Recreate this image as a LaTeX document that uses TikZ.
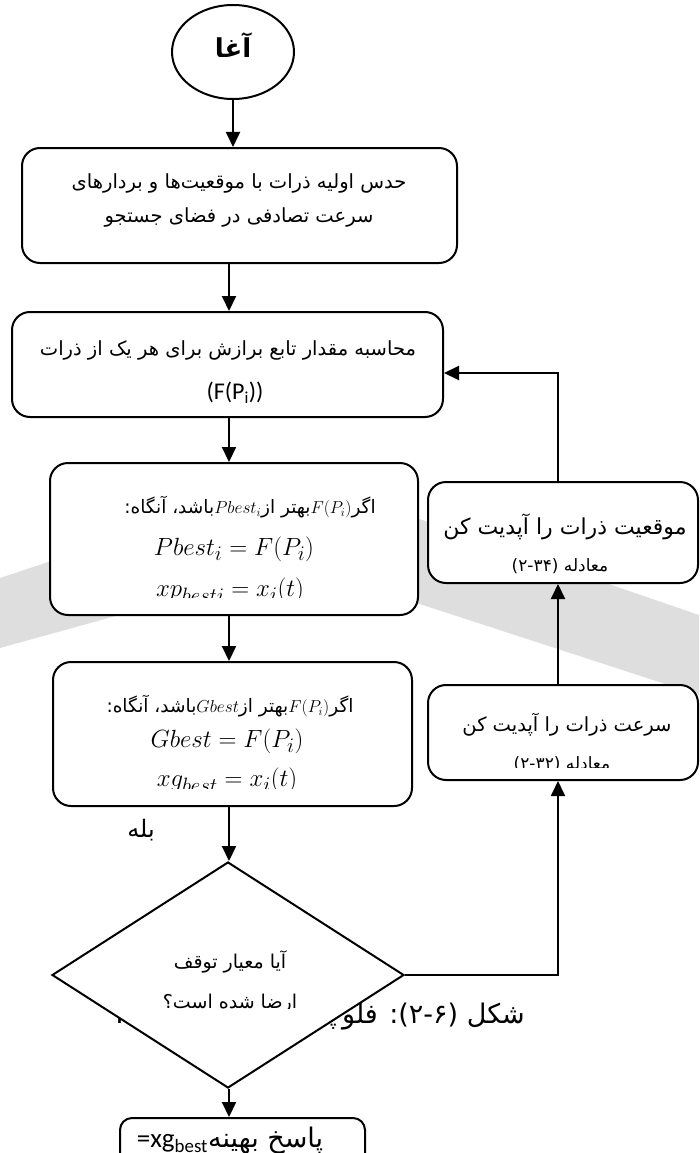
\documentclass[tikz,border=0pt]{standalone}
\usepackage{fontspec}
\usetikzlibrary{shapes.geometric,arrows.meta}
\TeXXeTstate=1
\newfontfamily\fa[Script=Arabic]{DejaVu Sans}
\newfontfamily\lat{Carlito}
\newcommand\rtl[1]{{\fa\beginR #1\endR}}
\newcommand\ltr[1]{\beginL #1\endL}
\tikzset{
  box/.style={draw, line width=2pt, rounded corners=18pt, fill=white, inner sep=0pt},
  arr/.style={line width=2pt, -{Triangle[length=15pt,width=14pt]}},
  txt/.style={inner sep=0pt},
}
\begin{document}
\begin{tikzpicture}[x=1pt,y=-1pt]
\useasboundingbox (0,0) rectangle (699,1153);

% faint watermark band
\fill[black!13] (0,578) -- (300,478) -- (699,615) -- (699,695) -- (300,565) -- (0,648) -- cycle;

% caption lying under the decision diamond
\node[txt, anchor=east, font=\fa\fontsize{27}{30}\selectfont] (cap) at (525,1015)
  {\beginR شکل (۲-۶): فلوچارت الگوریتم \beginL PSO\endL\endR};

% start
\node[draw, ellipse, line width=2pt, fill=white, minimum width=122pt, minimum height=94pt] (start) at (233,52) {};
\node[txt, font=\fa\bfseries\fontsize{26}{30}\selectfont] (starttxt) at (233,45) {\beginR آغا\endR};

% initialisation
\node[box, minimum width=435pt, minimum height=115pt] (box1) at (239.5,205.5) {};
\node[txt, font=\fa\fontsize{19.5}{22}\selectfont] (b1a) at (239,183) {\beginR حدس اولیه ذرات با موقعیت‌ها و بردارهای\endR};
\node[txt, font=\fa\fontsize{19.5}{22}\selectfont] (b1b) at (239,217) {\beginR سرعت تصادفی در فضای جستجو\endR};

% fitness evaluation
\node[box, minimum width=431pt, minimum height=105pt] (box2) at (227.5,364.5) {};
\node[txt, font=\fa\fontsize{19.5}{22}\selectfont] (b2a) at (228,350) {\beginR محاسبه مقدار تابع برازش برای هر یک از ذرات\endR};
\begin{scope}
  \clip (12,370) rectangle (443,405);
  \node[txt, font=\lat\fontsize{24}{28}\selectfont] (b2b) at (235,393) {(F(P\textsubscript{i}))};
\end{scope}

% personal best
\node[box, minimum width=368pt, minimum height=152pt] (box3) at (234,539) {};
\node[txt, font=\fa\fontsize{18.5}{21}\selectfont] (b3a) at (250,507)
  {\beginR اگر\ltr{$F(P_i)$}بهتر از\ltr{$Pbest_i$}باشد، آنگاه:\endR};
\node[txt, font=\fontsize{31}{34}\selectfont] (b3b) at (234,549) {$Pbest_i = F(P_i)$};
\begin{scope}
  \clip (50,565) rectangle (418,597);
  \node[txt, font=\fontsize{31}{34}\selectfont] (b3c) at (230,590) {$xp_{besti} = x_i(t)$};
\end{scope}

% global best
\node[box, minimum width=359pt, minimum height=144pt] (box4) at (232.5,734) {};
\node[txt, font=\fa\fontsize{18.5}{21}\selectfont] (b4a) at (230,706)
  {\beginR اگر\ltr{$F(P_i)$}بهتر از\ltr{$Gbest$}باشد، آنگاه:\endR};
\node[txt, font=\fontsize{31}{34}\selectfont] (b4b) at (227,741) {$Gbest = F(P_i)$};
\begin{scope}
  \clip (53,755) rectangle (412,788);
  \node[txt, font=\fontsize{31}{34}\selectfont] (b4c) at (227,780) {$xg_{best} = x_i(t)$};
\end{scope}

% stopping test
\node[draw, diamond, line width=2pt, fill=white, inner sep=0pt, minimum width=352pt, minimum height=226pt] (dec) at (228,975) {};
\node[txt, font=\fa\fontsize{19}{22}\selectfont] (deca) at (230,962) {\beginR آیا معیار توقف\endR};
\begin{scope}
  \clip (100,985) rectangle (360,1008);
  \node[txt, font=\fa\fontsize{19}{22}\selectfont] (decb) at (230,1004) {\beginR ارضا شده است؟\endR};
\end{scope}

% result
\node[box, rounded corners=12pt, minimum width=245pt, minimum height=60pt] (res) at (242.5,1148) {};
\node[txt, font=\fontsize{27}{30}\selectfont] (restxt) at (230,1141)
  {{\lat =xg\textsubscript{best}}\rtl{پاسخ بهینه}};

% update boxes
\node[box, minimum width=270pt, minimum height=101pt] (posbox) at (563,532.5) {};
\node[txt, font=\fa\fontsize{22}{25}\selectfont] (pa) at (565,527) {\beginR موقعیت ذرات را آپدیت کن\endR};
\node[txt, font=\fa\fontsize{17}{20}\selectfont] (pb) at (560,566) {\beginR معادله (۲-۳۴)\endR};

\node[box, minimum width=270pt, minimum height=95pt] (velbox) at (563,732.5) {};
\node[txt, font=\fa\fontsize{19.5}{22}\selectfont] (va) at (567,725) {\beginR سرعت ذرات را آپدیت کن\endR};
\begin{scope}
  \clip (430,745) rectangle (698,767);
  \node[txt, font=\fa\fontsize{17}{20}\selectfont] (vb) at (562,764) {\beginR معادله (۲-۳۲)\endR};
\end{scope}

\node[txt, font=\fa\fontsize{24}{28}\selectfont] (yes) at (141,830) {\beginR بله\endR};

% connectors
\coordinate (cx) at (229,0);
\coordinate (rx) at (558,0);
\coordinate (fb) at (0,373);
\draw[arr] (start.south) -- (start.south |- box1.north);
\draw[arr] (box1.south -| cx) -- (box2.north -| cx);
\draw[arr] (box2.south -| cx) -- (box3.north -| cx);
\draw[arr] (box3.south -| cx) -- (box4.north -| cx);
\draw[arr] (box4.south -| cx) -- (dec.north -| cx);
\draw[arr] (dec.south -| cx) -- (res.north -| cx);
\draw[arr] (dec.east) -| (velbox.south -| rx);
\draw[arr] (velbox.north -| rx) -- (posbox.south -| rx);
\draw[arr] (posbox.north -| rx) -- (rx |- fb) -- (box2.east |- fb);
\end{tikzpicture}
\end{document}
